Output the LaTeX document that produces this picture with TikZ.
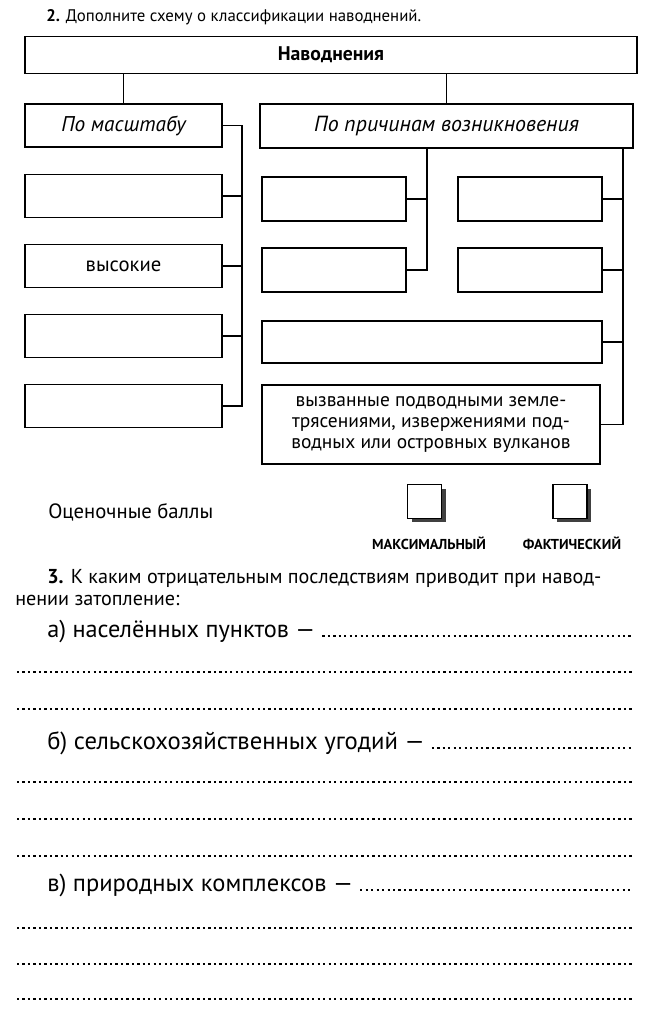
\documentclass[tikz,border=0pt]{standalone}
\usepackage{fontspec}
\setmainfont{PT Sans}
\usetikzlibrary{shadows}

\begin{document}
\begin{tikzpicture}[x=0.75pt,y=-0.75pt,
	box/.style={rectangle,draw,line width=1.1pt,inner sep=0pt},
	link/.style={line width=1.1pt},
	dotline/.style={line width=1.8pt,dash pattern=on 1.7pt off 2.4pt},
	score/.style={rectangle,draw,line width=0.9pt,fill=white,minimum width=25.5pt,minimum height=25pt,drop shadow={shadow xshift=3pt,shadow yshift=-3pt,fill=black!75,opacity=1}}]
	\useasboundingbox (0,0) rectangle (646,1024);
	% task 2
	\node[anchor=base west,inner sep=0pt,font=\fontsize{12.6}{15}\selectfont] at (46,22) (task2) {\textbf{2.} Дополните схему о классификации наводнений.};

	\node[box] at (331,55) [minimum width=459pt,minimum height=27.75pt,font=\bfseries\fontsize{14.8}{16}\selectfont] (floods) {Наводнения};
	\node[box] at (123.5,125.5) [minimum width=147.75pt,minimum height=32.25pt,font=\itshape\fontsize{16}{18}\selectfont] (scale) {По масштабу};
	\node[box] at (446.5,126) [minimum width=279.75pt,minimum height=33pt,font=\itshape\fontsize{16.4}{18}\selectfont] (cause) {По причинам возникновения};
	\draw[link] (scale.north) -- (scale.north |- floods.south);
	\draw[link] (cause.north) -- (cause.north |- floods.south);

	% by scale
	\node[box] at (123.5,196) [minimum width=147.75pt,minimum height=32.25pt] (scale1) {};
	\node[box] at (123.5,266) [minimum width=147.75pt,minimum height=32.25pt,font=\fontsize{15.5}{18}\selectfont] (scale2) {высокие};
	\node[box] at (123.5,336) [minimum width=147.75pt,minimum height=32.25pt] (scale3) {};
	\node[box] at (123.5,406) [minimum width=147.75pt,minimum height=32.25pt] (scale4) {};
	\coordinate (lspine) at (242,0);
	\draw[link] (scale.east) -| (lspine |- scale4.east) -- (scale4.east);
	\draw[link] (scale1.east) -- (scale1.east -| lspine);
	\draw[link] (scale2.east) -- (scale2.east -| lspine);
	\draw[link] (scale3.east) -- (scale3.east -| lspine);

	% by cause
	\node[box] at (334,199) [minimum width=108pt,minimum height=33pt] (cause1) {};
	\node[box] at (334,270) [minimum width=108pt,minimum height=33pt] (cause2) {};
	\node[box] at (530,199) [minimum width=108pt,minimum height=33pt] (cause3) {};
	\node[box] at (530,270) [minimum width=108pt,minimum height=33pt] (cause4) {};
	\node[box] at (432,342) [minimum width=255pt,minimum height=31.5pt] (cause5) {};
	\node[box] at (431,424.5) [minimum width=253.5pt,minimum height=59.25pt,align=center,font=\fontsize{14.6}{15.4}\selectfont] (cause6) {вызванные подводными земле-\\трясениями, извержениями под-\\водных или островных вулканов};
	\coordinate (mspine) at (427,0);
	\coordinate (rspine) at (623,0);
	\draw[link] (cause.south -| mspine) |- (cause2.east);
	\draw[link] (cause1.east) -- (cause1.east -| mspine);
	\draw[link] (cause.south -| rspine) |- (cause6.east);
	\draw[link] (cause3.east) -- (cause3.east -| rspine);
	\draw[link] (cause4.east) -- (cause4.east -| rspine);
	\draw[link] (cause5.east) -- (cause5.east -| rspine);

	% scores
	\node[anchor=west,inner sep=0pt,font=\fontsize{15.5}{18}\selectfont] at (48,512) (points) {Оценочные баллы};
	\node[score] at (424.5,501.5) (maxbox) {};
	\node[score] at (570,501.5) (factbox) {};
	\node[font=\bfseries\fontsize{10.8}{12}\selectfont] at (429,543) (maxlabel) {МАКСИМАЛЬНЫЙ};
	\node[font=\bfseries\fontsize{10.8}{12}\selectfont] at (572,543) (factlabel) {ФАКТИЧЕСКИЙ};

	% task 3
	\node[anchor=base west,inner sep=0pt,font=\fontsize{15.1}{17}\selectfont] at (47,583) (task3) {\textbf{3.} К каким отрицательным последствиям приводит при навод-};
	\node[anchor=base west,inner sep=0pt,font=\fontsize{15.1}{17}\selectfont] at (15,605) (task3b) {нении затопление:};

	\node[anchor=base west,inner sep=0pt,font=\fontsize{18.2}{20}\selectfont] at (47,637) (towns) {а) населённых пунктов —};
	\coordinate (towns end) at (632,636);
	\draw[dotline] ([xshift=5pt]towns.base east |- towns end) -- (towns end);
	\draw[dotline] (17,672) -- (632,672);
	\draw[dotline] (17,709) -- (632,709);

	\node[anchor=base west,inner sep=0pt,font=\fontsize{18.5}{20}\selectfont] at (47,749) (fields) {б) сельскохозяйственных угодий —};
	\coordinate (fields end) at (632,748);
	\draw[dotline] ([xshift=5pt]fields.base east |- fields end) -- (fields end);
	\draw[dotline] (17,782) -- (632,782);
	\draw[dotline] (17,819) -- (632,819);
	\draw[dotline] (17,856) -- (632,856);

	\node[anchor=base west,inner sep=0pt,font=\fontsize{18.4}{20}\selectfont] at (47,891) (nature) {в) природных комплексов —};
	\coordinate (nature end) at (632,890);
	\draw[dotline] ([xshift=5pt]nature.base east |- nature end) -- (nature end);
	\draw[dotline] (17,928) -- (632,928);
	\draw[dotline] (17,964) -- (632,964);
	\draw[dotline] (17,999) -- (632,999);
\end{tikzpicture}
\end{document}
